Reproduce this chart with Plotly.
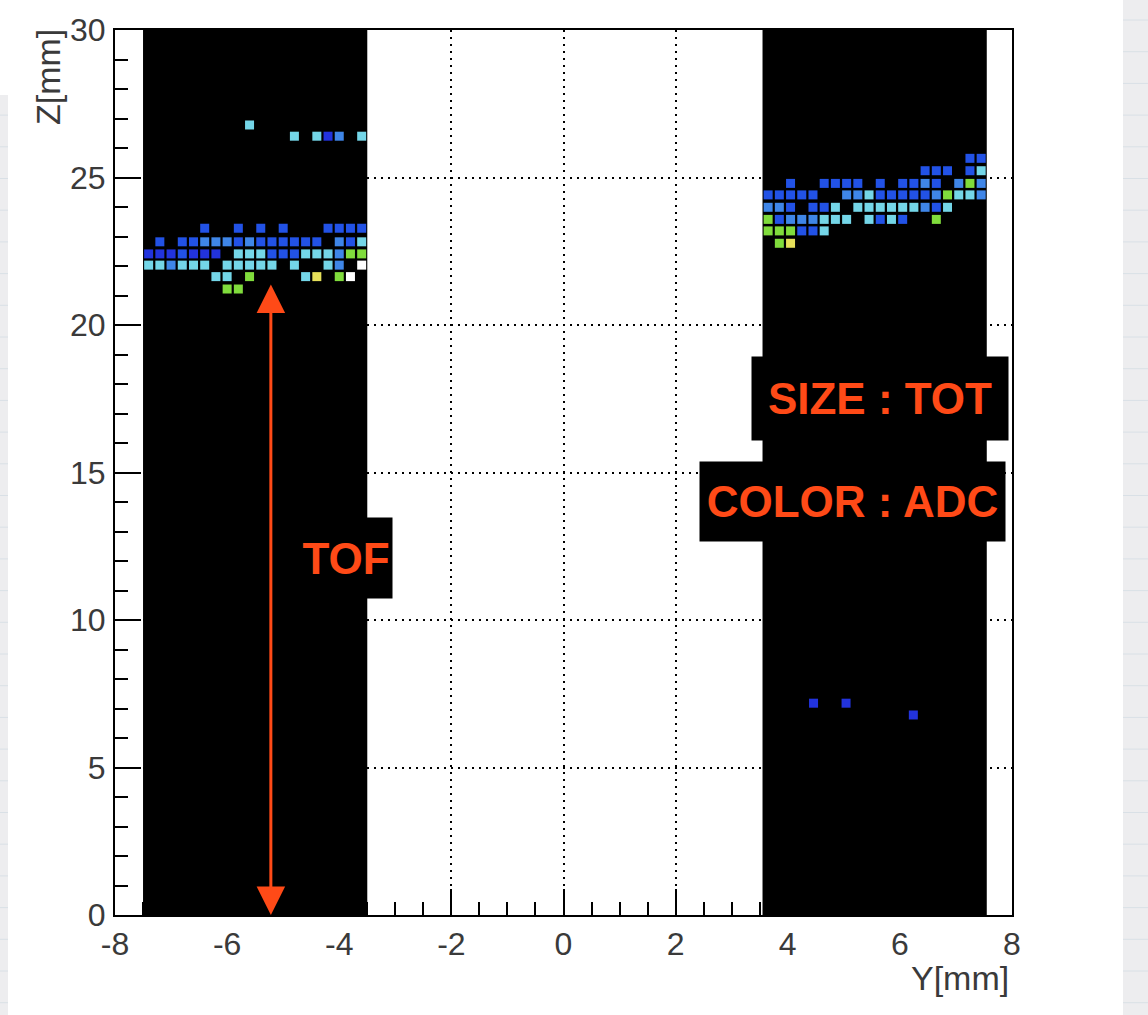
import plotly.graph_objects as go

# ---------------- data ----------------
# left sensor hits: Y [mm], Z [mm], ADC level (1 = deep blue ... 7 = white)
left_y = [-5.6,
          -4.8, -4.4, -4.2, -4.0, -3.6,
          -6.4, -5.8, -5.4, -5.0, -4.2, -4.0, -3.8, -3.6,
          -7.2, -6.8, -6.6, -6.4, -6.2, -6.0, -5.8, -5.6, -5.4, -5.2, -5.0, -4.8, -4.6, -4.4, -4.0, -3.8, -3.6,
          -7.4, -7.2, -7.0, -6.8, -6.6, -6.4, -6.2, -5.8, -5.6, -5.4, -5.2, -5.0, -4.8, -4.6, -4.4, -4.2, -4.0, -3.8, -3.6,
          -7.4, -7.2, -7.0, -6.8, -6.6, -6.4, -6.0, -5.8, -5.6, -5.4, -5.2, -4.8, -4.2, -4.0, -3.6,
          -6.2, -6.0, -5.6, -4.6, -4.4, -4.0, -3.8,
          -6.0, -5.8]
left_z = [26.78,
          26.40, 26.40, 26.40, 26.40, 26.40,
          23.28, 23.28, 23.28, 23.28, 23.28, 23.28, 23.28, 23.28,
          22.82, 22.82, 22.82, 22.82, 22.82, 22.82, 22.82, 22.82, 22.82, 22.82, 22.82, 22.82, 22.82, 22.82, 22.82, 22.82, 22.82,
          22.41, 22.41, 22.41, 22.41, 22.41, 22.41, 22.41, 22.41, 22.41, 22.41, 22.41, 22.41, 22.41, 22.41, 22.41, 22.41, 22.41, 22.41, 22.41,
          22.03, 22.03, 22.03, 22.03, 22.03, 22.03, 22.03, 22.03, 22.03, 22.03, 22.03, 22.03, 22.03, 22.03, 22.03,
          21.64, 21.64, 21.64, 21.64, 21.64, 21.64, 21.64,
          21.22, 21.22]
left_adc = [4,
            4, 4, 1, 3, 4,
            2, 2, 2, 2, 2, 2, 2, 2,
            2, 2, 2, 3, 3, 3, 2, 3, 2, 2, 2, 2, 2, 2, 3, 2, 4,
            1, 1, 1, 2, 1, 1, 1, 4, 4, 4, 2, 2, 2, 4, 4, 4, 3, 5, 5,
            4, 4, 3, 4, 4, 4, 4, 4, 4, 4, 4, 4, 4, 3, 7,
            4, 4, 5, 4, 6, 5, 7,
            5, 5]

# right sensor hits
right_y = [7.25, 7.45,
           6.45, 6.65, 6.85, 7.25, 7.45,
           4.05, 4.65, 4.85, 5.05, 5.25, 5.65, 6.05, 6.25, 6.45, 6.65, 7.05, 7.25, 7.45,
           3.65, 3.85, 4.05, 4.25, 4.45, 5.05, 5.25, 5.45, 5.65, 5.85, 6.05, 6.25, 6.45, 6.65, 6.85, 7.05, 7.25, 7.45,
           3.65, 3.85, 4.05, 4.45, 4.65, 4.85, 5.25, 5.45, 5.65, 5.85, 6.05, 6.25, 6.45, 6.65, 6.85,
           3.65, 3.85, 4.05, 4.25, 4.45, 4.65, 4.85, 5.05, 5.45, 5.65, 5.85, 6.05, 6.65,
           3.65, 3.85, 4.05, 4.25, 4.45, 4.65,
           3.85, 4.05,
           4.46, 5.04, 6.24]
right_z = [25.65, 25.65,
           25.23, 25.23, 25.23, 25.23, 25.23,
           24.80, 24.80, 24.80, 24.80, 24.80, 24.80, 24.80, 24.80, 24.80, 24.80, 24.80, 24.80, 24.80,
           24.41, 24.41, 24.41, 24.41, 24.41, 24.41, 24.41, 24.41, 24.41, 24.41, 24.41, 24.41, 24.41, 24.41, 24.41, 24.41, 24.41, 24.41,
           23.99, 23.99, 23.99, 23.99, 23.99, 23.99, 23.99, 23.99, 23.99, 23.99, 23.99, 23.99, 23.99, 23.99, 23.99,
           23.58, 23.58, 23.58, 23.58, 23.58, 23.58, 23.58, 23.58, 23.58, 23.58, 23.58, 23.58, 23.58,
           23.19, 23.19, 23.19, 23.19, 23.19, 23.19,
           22.77, 22.77,
           7.18, 7.18, 6.78]
right_adc = [2, 2,
             2, 2, 2, 2, 4,
             2, 2, 2, 2, 2, 2, 2, 2, 3, 2, 3, 5, 3,
             2, 2, 2, 2, 2, 3, 3, 4, 2, 2, 2, 2, 2, 3, 5, 4, 4, 3,
             3, 3, 2, 2, 2, 4, 4, 4, 4, 4, 4, 4, 3, 2, 4,
             5, 2, 3, 3, 3, 4, 4, 4, 4, 2, 4, 2, 5,
             5, 5, 5, 2, 2, 4,
             5, 6,
             1, 1, 1]

# sensor areas (Y range, mm)
sensor_left = [-7.5, -3.5]
sensor_right = [3.55, 7.55]

x_ticks = [-8, -6, -4, -2, 0, 2, 4, 6, 8]
z_ticks = [0, 5, 10, 15, 20, 25, 30]

adc_scale = [[0.0, "#2233dd"], [1/6, "#2252e6"], [2/6, "#3f86e8"],
             [3/6, "#74d6e8"], [4/6, "#80dc3c"], [5/6, "#e6e05a"], [1.0, "#ffffff"]]

ORANGE = "#ff4a17"
TXT = "#3a3a3a"

fig = go.Figure()
for ys, zs, cs in [(left_y, left_z, left_adc), (right_y, right_z, right_adc)]:
    fig.add_trace(go.Scatter(
        x=ys, y=zs, mode="markers",
        marker=dict(symbol="square", size=9, color=cs, colorscale=adc_scale,
                    cmin=1, cmax=7, line=dict(width=0)),
        showlegend=False, hoverinfo="x+y"))

shapes = []
for s in (sensor_left, sensor_right):
    shapes.append(dict(type="rect", xref="x", yref="y", x0=s[0], x1=s[1], y0=0, y1=30,
                       fillcolor="black", line=dict(width=0), layer="between"))

# page background strips (grid paper at the edges)
W, H = 1148, 1015
L, R, T, B = 115, 136, 30, 100
pw, ph = W - L - R, H - T - B
def px(xp):
    return (xp - L) / pw
def py(yp):
    return (H - B - yp) / ph
strip_col = "#ededef"
shapes.append(dict(type="rect", xref="paper", yref="paper", x0=px(0), x1=px(8), y0=py(95), y1=py(H),
                   fillcolor=strip_col, line=dict(width=0), layer="below"))
shapes.append(dict(type="rect", xref="paper", yref="paper", x0=px(1123), x1=px(W), y0=py(0), y1=py(H),
                   fillcolor=strip_col, line=dict(width=0), layer="below"))
yl = 20.0
while yl < H:
    if yl > 95:
        shapes.append(dict(type="line", xref="paper", yref="paper", x0=px(0), x1=px(8), y0=py(yl), y1=py(yl),
                           line=dict(color="#d9e0e6", width=1), layer="below"))
    shapes.append(dict(type="line", xref="paper", yref="paper", x0=px(1123), x1=px(W), y0=py(yl), y1=py(yl),
                       line=dict(color="#d9e0e6", width=1), layer="below"))
    yl += 31.7

lab_font = dict(family="Liberation Sans", size=44, color=ORANGE)
annotations = [
    dict(xref="paper", yref="paper", x=px(48), y=py(27), text="Z[mm]", textangle=-90,
         showarrow=False, xanchor="center", yanchor="top",
         font=dict(family="Liberation Sans", size=34, color=TXT)),
    dict(xref="paper", yref="paper", x=px(1011), y=py(978), text="Y[mm]",
         showarrow=False, xanchor="right", yanchor="middle",
         font=dict(family="Liberation Sans", size=34, color=TXT)),
    dict(xref="paper", yref="paper", x=px(880), y=py(398.5), text="<b>SIZE : TOT</b>",
         showarrow=False, xanchor="center", yanchor="middle", bgcolor="black",
         width=250, height=77, borderpad=3, font=lab_font),
    dict(xref="paper", yref="paper", x=px(852.5), y=py(501.5), text="<b>COLOR : ADC</b>",
         showarrow=False, xanchor="center", yanchor="middle", bgcolor="black",
         width=299, height=73, borderpad=3, font=lab_font),
    dict(xref="paper", yref="paper", x=px(346), y=py(557.5), text="<b>TOF</b>",
         showarrow=False, xanchor="center", yanchor="middle", bgcolor="black",
         width=88, height=76, borderpad=2, font=lab_font),
    dict(xref="x", yref="y", x=-5.22, y=0, ax=-5.22, ay=21.42, axref="x", ayref="y",
         text="", showarrow=True, arrowhead=2, startarrowhead=2, arrowside="end+start",
         arrowsize=1.9, startarrowsize=1.9, arrowwidth=3, arrowcolor=ORANGE,
         standoff=0, startstandoff=0),
]

axis_common = dict(showline=True, linecolor="black", linewidth=2, mirror=True,
                   ticks="inside", ticklen=26, tickwidth=2, tickcolor="black",
                   showgrid=True, gridcolor="black", gridwidth=2, griddash="2px,5px",
                   zeroline=False, tickfont=dict(family="Liberation Sans", size=32, color=TXT))

fig.update_layout(
    width=W, height=H, margin=dict(l=L, r=R, t=T, b=B),
    paper_bgcolor="white", plot_bgcolor="white",
    xaxis=dict(range=[-8, 8], tickvals=x_ticks, ticktext=[str(v) for v in x_ticks],
               minor=dict(dtick=0.5, ticks="inside", ticklen=13, tickwidth=2, tickcolor="black", showgrid=False),
               ticklabelstandoff=0, **axis_common),
    yaxis=dict(range=[0, 30], tickvals=z_ticks, ticktext=[str(v) for v in z_ticks],
               minor=dict(dtick=1, ticks="inside", ticklen=13, tickwidth=2, tickcolor="black", showgrid=False),
               ticklabelstandoff=1, **axis_common),
    shapes=shapes, annotations=annotations,
)

fig.write_html("out.html", config={"displayModeBar": False},
               post_script="document.body.style.margin='0px';")
